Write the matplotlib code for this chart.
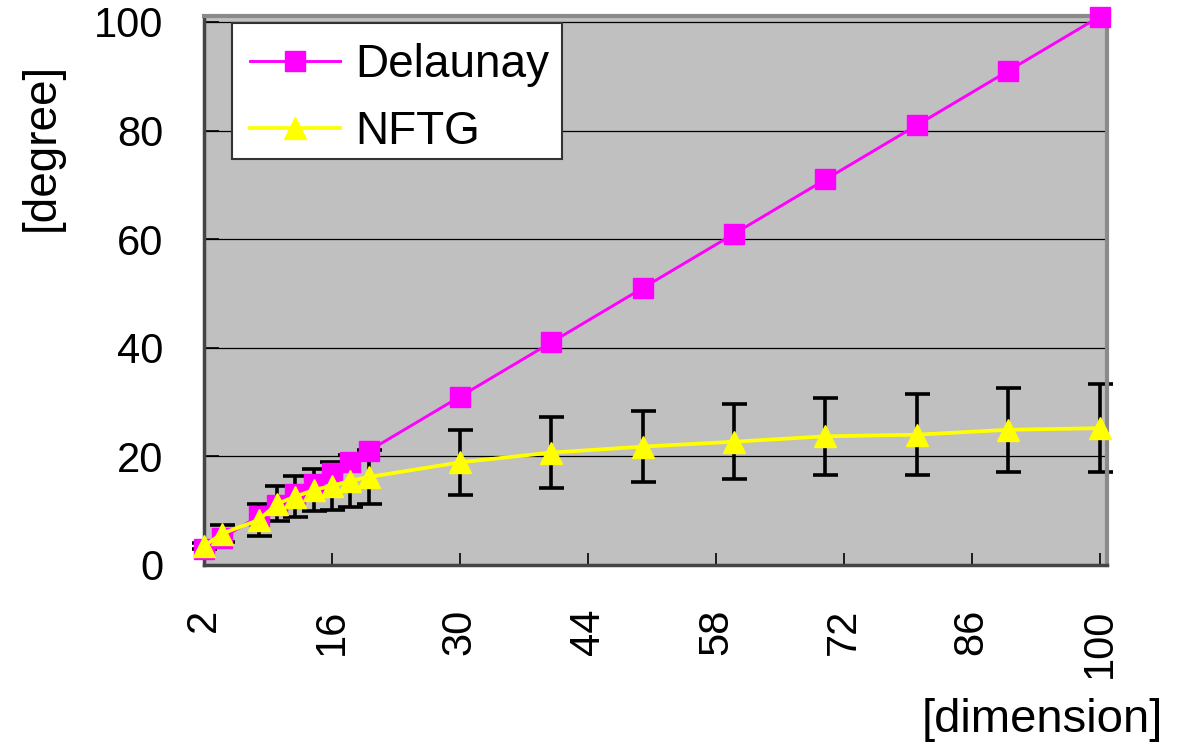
import matplotlib
matplotlib.use("Agg")
import matplotlib.pyplot as plt
from matplotlib.patches import Rectangle

plt.rcParams['font.family'] = ['Liberation Sans', 'DejaVu Sans']

# dimension values on the x axis
dims = [2, 4, 8, 10, 12, 14, 16, 18, 20, 30, 40, 50, 60, 70, 80, 90, 100]
# mean degree of the Delaunay graph
delaunay = [3, 5, 9, 11, 13, 15, 17, 19, 21, 31, 41, 51, 61, 71, 81, 91, 101]
# mean degree of NFTG and its spread
nftg = [3.5, 5.8, 8.3, 11.3, 12.6, 13.8, 14.6, 15.5, 16.2,
        18.9, 20.7, 21.8, 22.7, 23.7, 24.0, 24.9, 25.2]
nftg_err = [0.6, 1.5, 3.0, 3.2, 3.8, 3.9, 4.4, 4.8, 5.0,
            6.0, 6.5, 6.5, 6.9, 7.1, 7.5, 7.7, 8.1]

x_ticks = [2, 16, 30, 44, 58, 72, 86, 100]
y_ticks = [0, 20, 40, 60, 80, 100]

W, H = 1182, 747
fig = plt.figure(figsize=(W / 100, H / 100), dpi=100)
ax = fig.add_axes([204 / W, 1 - 565 / H, 903 / W, 549 / H])
ax.set_facecolor('#C0C0C0')

# error bars sit underneath both series
ax.errorbar(dims, nftg, yerr=nftg_err, fmt='none', ecolor='black',
            elinewidth=2.6, capsize=9, capthick=2.6, zorder=2,
            clip_on=False)
ax.plot(dims, delaunay, color='#FF00FF', lw=2.1, marker='s', ms=14,
        mfc='#FF00FF', mec='#FF00FF', label='Delaunay', zorder=3,
        clip_on=False)
ax.plot(dims, nftg, color='#FFFF00', lw=2.7, marker='^', ms=16,
        mfc='#FFFF00', mec='#FFFF00', label='NFTG', zorder=4,
        clip_on=False)

ax.set_xlim(2, 100.8)
ax.set_ylim(0, 101.1)
ax.set_xticks(x_ticks)
ax.set_yticks(y_ticks)
ax.set_xticklabels([str(v) for v in x_ticks])
ax.set_yticklabels([str(v) for v in y_ticks])

for v in y_ticks[1:]:
    ax.axhline(v, color='black', lw=0.9, zorder=1)

ax.tick_params(axis='x', direction='in', length=9, width=1.2, pad=31.5,
               labelsize=30, labelrotation=90, colors='black')
ax.tick_params(axis='y', direction='in', length=11, width=1.2, pad=29,
               labelsize=30, colors='black')

for side in ('left', 'bottom'):
    ax.spines[side].set_color('#444444')
    ax.spines[side].set_linewidth(2.5)
for side in ('top', 'right'):
    ax.spines[side].set_color('#8A8A8A')
    ax.spines[side].set_linewidth(3)

# legend box drawn as its own patch, entries placed inside it
box = Rectangle((0.031, 0.7395), 0.3654, 0.2477, transform=ax.transAxes,
                facecolor='white', edgecolor='#333333', lw=1.5, zorder=9,
                clip_on=False)
ax.add_patch(box)
leg = ax.legend(loc='upper left', bbox_to_anchor=(0.0509, 0.951),
                borderaxespad=0, fontsize=33, frameon=False,
                handlelength=1.96, handletextpad=0.33, borderpad=0,
                labelspacing=0.5)
leg.set_zorder(10)

fig.text(42 / W, 1 - 147 / H, '[degree]', rotation=90, fontsize=33,
         ha='center', va='center')
fig.text(1042 / W, 1 - 720 / H, '[dimension]', fontsize=34,
         ha='center', va='center')

fig.savefig('out.png', dpi=100)
